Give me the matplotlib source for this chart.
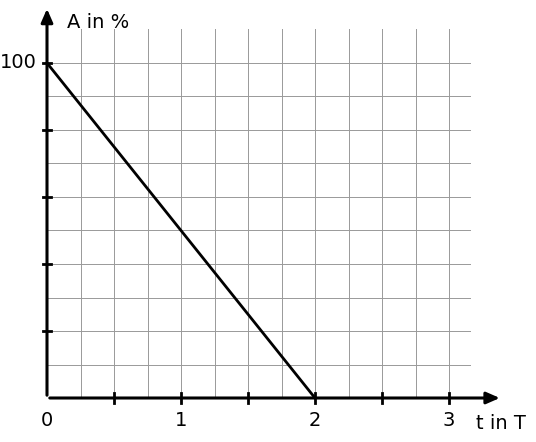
import matplotlib
matplotlib.use("Agg")
import matplotlib.pyplot as plt
import numpy as np

t_vals = [0, 2]
a_vals = [100, 0]
x_labels = ["0", "1", "2", "3"]
x_label_pos = [0, 1, 2, 3]

fig = plt.figure(figsize=(5.36, 4.42), dpi=100)
ax = fig.add_axes([0, 0, 1, 1])
ax.set_xlim(-47/134, (536-47)/134)
ax.set_ylim(-44/3.35, 398/3.35)
ax.axis("off")

gx_max, gy_max = 3.16, 110
for x in np.arange(0.25, 3.01, 0.25):
    ax.plot([x, x], [0, gy_max], color="#999999", lw=0.7, zorder=1)
for y in np.arange(10, 101, 10):
    ax.plot([0, gx_max], [y, y], color="#999999", lw=0.7, zorder=1)

ax.annotate("", xy=(3.4, 0), xytext=(0, 0),
            arrowprops=dict(arrowstyle="-|>,head_length=0.8,head_width=0.35", lw=2.2, color="black"), zorder=3)
ax.annotate("", xy=(0, 117), xytext=(0, 0),
            arrowprops=dict(arrowstyle="-|>,head_length=0.8,head_width=0.35", lw=2.2, color="black"), zorder=3)

for x in np.arange(0.5, 3.01, 0.5):
    ax.plot([x, x], [-1.5, 1.5], color="black", lw=2, zorder=3)
for y in [20, 40, 60, 80, 100]:
    ax.plot([-0.03, 0.03], [y, y], color="black", lw=2, zorder=3)

ax.plot(t_vals, a_vals, color="black", lw=2, zorder=4)

for p, l in zip(x_label_pos, x_labels):
    ax.text(p, -4, l, ha="center", va="top", fontsize=14)
ax.text(-0.08, 100, "100", ha="right", va="center", fontsize=14)
ax.text(0.15, 112, "A in %", ha="left", va="center", fontsize=14)
ax.text(3.2, -7.5, "t in T", ha="left", va="center", fontsize=14)

fig.savefig("out.png", dpi=100)
